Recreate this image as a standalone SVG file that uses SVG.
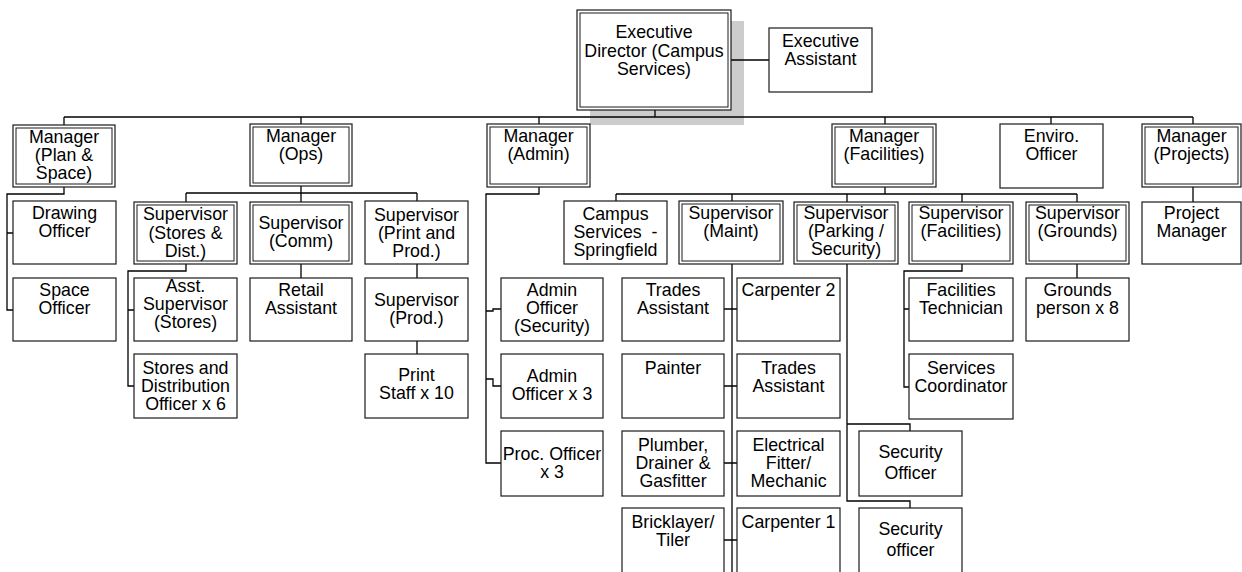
<svg xmlns="http://www.w3.org/2000/svg" width="1242" height="572" viewBox="0 0 1242 572">
  <style>
    .box { fill: #ffffff; stroke: #1a1a1a; stroke-width: 1.2; }
    .inner { fill: none; stroke: #1a1a1a; stroke-width: 1; }
    .conn { fill: none; stroke: #000000; stroke-width: 1.3; }
    .shadow { fill: #cccccc; }
    text { font-family: "Liberation Sans", Arial, Helvetica, sans-serif; font-size: 17.8px; fill: #000000; text-anchor: middle; }
  </style>

  <!-- drop shadow behind the top box -->
  <rect class="shadow" x="590" y="21" width="154" height="104"/>

  <g id="connectors">
    <!-- top level -->
    <path class="conn" d="M731,60 H769"/>
    <path class="conn" d="M655,110 V117"/>
    <path class="conn" d="M64,117 H1193"/>
    <path class="conn" d="M64,117 V125 M301,117 V124 M539,117 V124 M885,117 V124 M1051,117 V124 M1193,117 V124"/>
    <!-- Plan & Space -->
    <path class="conn" d="M64,187 V194 H7 V310 H13 M7,233 H13"/>
    <!-- Ops -->
    <path class="conn" d="M301,186 V202 M186,193 H417 M186,193 V202 M417,193 V201"/>
    <path class="conn" d="M186,264 V271 H128 V386 H134 M128,310 H134"/>
    <path class="conn" d="M301,264 V278"/>
    <path class="conn" d="M417,264 V278 M417,341 V354"/>
    <!-- Admin -->
    <path class="conn" d="M539,187 V194 H486 V463 H501"/>
    <path class="conn" d="M486,311 H493 V309 H501"/>
    <path class="conn" d="M486,379 H493 V386 H501"/>
    <!-- Facilities -->
    <path class="conn" d="M885,187 V194 M616,194 H1077"/>
    <path class="conn" d="M616,194 V201 M732,194 V201 M847,194 V202 M962,194 V202 M1077,194 V202"/>
    <!-- Maintenance -->
    <path class="conn" d="M732,264 V572"/>
    <path class="conn" d="M724,309 H737 M724,386 H737 M724,463 H737 M724,540 H737"/>
    <!-- Parking / Security -->
    <path class="conn" d="M847,264 V501 H910 V508 M847,424 H910 V431"/>
    <!-- Facilities supervisor -->
    <path class="conn" d="M962,264 V271 H904 V387 H909 M904,309 H909"/>
    <!-- Grounds -->
    <path class="conn" d="M1077,264 V278"/>
    <!-- Projects -->
    <path class="conn" d="M1193,187 V202"/>
  </g>

  <g id="exec-director">
    <rect class="box" x="577" y="10" width="154" height="100"/>
    <rect class="inner" x="580" y="13" width="148" height="94"/>
    <text x="654" y="38">Executive</text>
    <text x="654" y="56.5">Director (Campus</text>
    <text x="654" y="75">Services)</text>
  </g>
  <g id="exec-assistant">
    <rect class="box" x="769" y="28" width="103" height="64"/>
    <text x="820.5" y="46.5">Executive</text>
    <text x="820.5" y="64.5">Assistant</text>
  </g>

  <g id="mgr-plan-space">
    <rect class="box" x="13" y="125" width="102" height="62"/>
    <rect class="inner" x="16" y="128" width="96" height="56"/>
    <text x="64" y="142.5">Manager</text>
    <text x="64" y="160.5">(Plan &amp;</text>
    <text x="64" y="178.5">Space)</text>
  </g>
  <g id="mgr-ops">
    <rect class="box" x="250" y="124" width="102" height="62"/>
    <rect class="inner" x="253" y="127" width="96" height="56"/>
    <text x="301" y="142">Manager</text>
    <text x="301" y="160">(Ops)</text>
  </g>
  <g id="mgr-admin">
    <rect class="box" x="487" y="124" width="103" height="63"/>
    <rect class="inner" x="490" y="127" width="97" height="57"/>
    <text x="538.5" y="142">Manager</text>
    <text x="538.5" y="160">(Admin)</text>
  </g>
  <g id="mgr-facilities">
    <rect class="box" x="832" y="124" width="104" height="63"/>
    <rect class="inner" x="835" y="127" width="98" height="57"/>
    <text x="884" y="142">Manager</text>
    <text x="884" y="160">(Facilities)</text>
  </g>
  <g id="enviro-officer">
    <rect class="box" x="1000" y="124" width="103" height="64"/>
    <text x="1051.5" y="142">Enviro.</text>
    <text x="1051.5" y="160">Officer</text>
  </g>
  <g id="mgr-projects">
    <rect class="box" x="1142" y="124" width="99" height="63"/>
    <rect class="inner" x="1145" y="127" width="93" height="57"/>
    <text x="1191.5" y="142">Manager</text>
    <text x="1191.5" y="160">(Projects)</text>
  </g>

  <g id="drawing-officer">
    <rect class="box" x="13" y="201" width="103" height="63"/>
    <text x="64.5" y="219">Drawing</text>
    <text x="64.5" y="237">Officer</text>
  </g>
  <g id="space-officer">
    <rect class="box" x="13" y="278" width="103" height="63"/>
    <text x="64.5" y="296">Space</text>
    <text x="64.5" y="314">Officer</text>
  </g>

  <g id="sup-stores">
    <rect class="box" x="134" y="202" width="103" height="62"/>
    <rect class="inner" x="137" y="205" width="97" height="56"/>
    <text x="185.5" y="220">Supervisor</text>
    <text x="185.5" y="238.5">(Stores &amp;</text>
    <text x="185.5" y="257">Dist.)</text>
  </g>
  <g id="asst-sup-stores">
    <rect class="box" x="134" y="278" width="103" height="63"/>
    <text x="185.5" y="292">Asst.</text>
    <text x="185.5" y="310">Supervisor</text>
    <text x="185.5" y="328">(Stores)</text>
  </g>
  <g id="stores-officer">
    <rect class="box" x="134" y="354" width="103" height="64"/>
    <text x="185.5" y="374">Stores and</text>
    <text x="185.5" y="392">Distribution</text>
    <text x="185.5" y="410">Officer x 6</text>
  </g>

  <g id="sup-comm">
    <rect class="box" x="250" y="202" width="102" height="62"/>
    <rect class="inner" x="253" y="205" width="96" height="56"/>
    <text x="301" y="228.5">Supervisor</text>
    <text x="301" y="246.5">(Comm)</text>
  </g>
  <g id="retail-assistant">
    <rect class="box" x="250" y="278" width="102" height="63"/>
    <text x="301" y="296">Retail</text>
    <text x="301" y="314">Assistant</text>
  </g>

  <g id="sup-print">
    <rect class="box" x="365" y="201" width="103" height="63"/>
    <text x="416.5" y="220.5">Supervisor</text>
    <text x="416.5" y="238.5">(Print and</text>
    <text x="416.5" y="257">Prod.)</text>
  </g>
  <g id="sup-prod">
    <rect class="box" x="365" y="278" width="103" height="63"/>
    <text x="416.5" y="305.5">Supervisor</text>
    <text x="416.5" y="323.5">(Prod.)</text>
  </g>
  <g id="print-staff">
    <rect class="box" x="365" y="354" width="103" height="64"/>
    <text x="416.5" y="380.5">Print</text>
    <text x="416.5" y="398.5">Staff x 10</text>
  </g>

  <g id="admin-officer-security">
    <rect class="box" x="501" y="278" width="102" height="63"/>
    <text x="552" y="296">Admin</text>
    <text x="552" y="314">Officer</text>
    <text x="552" y="332">(Security)</text>
  </g>
  <g id="admin-officer-x3">
    <rect class="box" x="501" y="354" width="102" height="64"/>
    <text x="552" y="381.5">Admin</text>
    <text x="552" y="399.5">Officer x 3</text>
  </g>
  <g id="proc-officer">
    <rect class="box" x="501" y="431" width="102" height="65"/>
    <text x="552" y="460">Proc. Officer</text>
    <text x="552" y="478">x 3</text>
  </g>

  <g id="campus-springfield">
    <rect class="box" x="564" y="201" width="103" height="63"/>
    <text x="615.5" y="220">Campus</text>
    <text x="615.5" y="238" xml:space="preserve">Services  -</text>
    <text x="615.5" y="256">Springfield</text>
  </g>

  <g id="sup-maint">
    <rect class="box" x="679" y="201" width="104" height="63"/>
    <rect class="inner" x="682" y="204" width="98" height="57"/>
    <text x="731" y="219">Supervisor</text>
    <text x="731" y="237">(Maint)</text>
  </g>
  <g id="trades-assistant-1">
    <rect class="box" x="622" y="278" width="102" height="63"/>
    <text x="673" y="296">Trades</text>
    <text x="673" y="314">Assistant</text>
  </g>
  <g id="painter">
    <rect class="box" x="622" y="354" width="102" height="64"/>
    <text x="673" y="373.5">Painter</text>
  </g>
  <g id="plumber">
    <rect class="box" x="622" y="431" width="102" height="65"/>
    <text x="673" y="450.5">Plumber,</text>
    <text x="673" y="468.5">Drainer &amp;</text>
    <text x="673" y="486.5">Gasfitter</text>
  </g>
  <g id="bricklayer">
    <rect class="box" x="622" y="508" width="102" height="72"/>
    <text x="673" y="527.5">Bricklayer/</text>
    <text x="673" y="545.5">Tiler</text>
  </g>
  <g id="carpenter-2">
    <rect class="box" x="737" y="278" width="103" height="63"/>
    <text x="788.5" y="296">Carpenter 2</text>
  </g>
  <g id="trades-assistant-2">
    <rect class="box" x="737" y="354" width="103" height="64"/>
    <text x="788.5" y="373.5">Trades</text>
    <text x="788.5" y="391.5">Assistant</text>
  </g>
  <g id="electrical-fitter">
    <rect class="box" x="737" y="431" width="103" height="65"/>
    <text x="788.5" y="450.5">Electrical</text>
    <text x="788.5" y="468.5">Fitter/</text>
    <text x="788.5" y="486.5">Mechanic</text>
  </g>
  <g id="carpenter-1">
    <rect class="box" x="737" y="508" width="103" height="72"/>
    <text x="788.5" y="527.5">Carpenter 1</text>
  </g>

  <g id="sup-parking">
    <rect class="box" x="794" y="202" width="104" height="62"/>
    <rect class="inner" x="797" y="205" width="98" height="56"/>
    <text x="846" y="219">Supervisor</text>
    <text x="846" y="237">(Parking /</text>
    <text x="846" y="255">Security)</text>
  </g>
  <g id="security-officer-1">
    <rect class="box" x="859" y="431" width="103" height="65"/>
    <text x="910.5" y="458">Security</text>
    <text x="910.5" y="479">Officer</text>
  </g>
  <g id="security-officer-2">
    <rect class="box" x="859" y="508" width="103" height="72"/>
    <text x="910.5" y="535">Security</text>
    <text x="910.5" y="556">officer</text>
  </g>

  <g id="sup-facilities">
    <rect class="box" x="909" y="202" width="104" height="62"/>
    <rect class="inner" x="912" y="205" width="98" height="56"/>
    <text x="961" y="219">Supervisor</text>
    <text x="961" y="237">(Facilities)</text>
  </g>
  <g id="facilities-technician">
    <rect class="box" x="909" y="278" width="104" height="63"/>
    <text x="961" y="296">Facilities</text>
    <text x="961" y="314">Technician</text>
  </g>
  <g id="services-coordinator">
    <rect class="box" x="909" y="354" width="104" height="65"/>
    <text x="961" y="373.5">Services</text>
    <text x="961" y="391.5">Coordinator</text>
  </g>

  <g id="sup-grounds">
    <rect class="box" x="1026" y="202" width="103" height="62"/>
    <rect class="inner" x="1029" y="205" width="97" height="56"/>
    <text x="1077.5" y="219">Supervisor</text>
    <text x="1077.5" y="237">(Grounds)</text>
  </g>
  <g id="groundsperson">
    <rect class="box" x="1026" y="278" width="103" height="63"/>
    <text x="1077.5" y="296">Grounds</text>
    <text x="1077.5" y="314">person x 8</text>
  </g>

  <g id="project-manager">
    <rect class="box" x="1142" y="202" width="99" height="62"/>
    <text x="1191.5" y="219">Project</text>
    <text x="1191.5" y="237">Manager</text>
  </g>
</svg>
